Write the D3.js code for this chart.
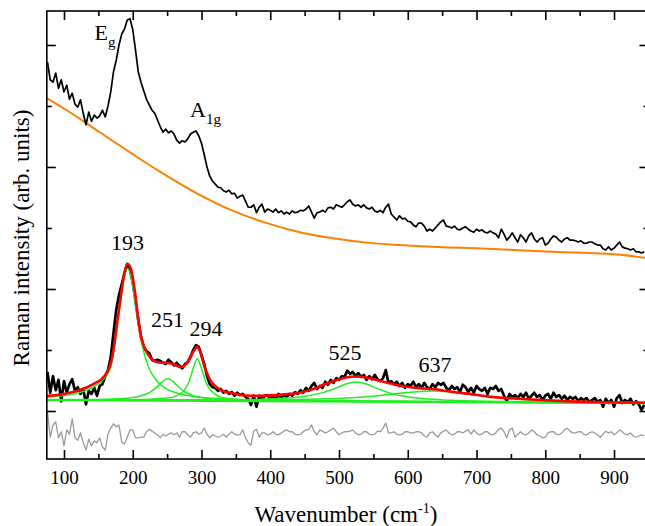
<!DOCTYPE html>
<html>
<head>
<meta charset="utf-8">
<script src="https://cdn.jsdelivr.net/npm/d3@7"></script>
<style>
  body { margin: 0; background: #fff; }
  svg { display: block; font-family: "Liberation Serif", "Times New Roman", serif; }
</style>
</head>
<body>
<svg id="chart" width="645" height="526"></svg>
<script>
  // measured points, every 4 cm-1 from 76 to 944
  const wavenumber = d3.range(76, 945, 4);

  // raw spectrum (top trace)
  const rawSpectrum = [
    572,543,539,554,529,543,523,534,511,521,503,498,510,488,469,490,
    475,485,480,484,493,482,500,523,556,575,600,618,626,641,643,625,
    592,556,539,525,511,502,493,488,477,466,457,462,456,459,454,444,
    439,443,441,446,454,457,459,451,439,420,400,385,377,372,367,366,
    361,359,362,356,357,349,352,354,344,334,334,338,325,334,339,326,
    331,329,326,331,325,328,323,326,323,328,325,326,329,328,331,336,
    326,316,325,326,329,326,333,334,331,338,336,334,338,343,346,339,
    336,338,334,338,333,331,334,328,326,329,325,334,339,323,318,313,
    320,315,316,311,310,305,302,308,308,303,295,298,295,300,305,310,
    313,303,302,300,303,298,297,300,302,298,295,293,298,295,297,293,
    292,295,292,290,284,298,290,280,285,292,284,277,289,284,277,287,
    292,282,277,282,284,272,275,282,287,285,280,277,282,284,280,280,
    279,277,279,275,275,277,277,274,272,272,266,264,269,264,267,272,
    277,269,267,266,264,266,261,261,259,261
  ];

  // background-subtracted spectrum (lower trace)
  const correctedSpectrum = [
    64,30,57,34,51,16,49,30,44,52,33,39,28,36,11,33,
    28,38,25,41,44,57,67,88,128,166,190,208,226,241,231,211,
    182,149,121,105,98,95,84,82,84,82,79,77,84,80,75,79,
    74,70,77,80,89,100,108,105,92,77,57,44,39,38,33,36,
    30,33,28,31,25,30,26,28,23,20,10,25,7,25,18,25,
    26,20,25,18,28,21,26,23,28,25,31,28,34,30,38,33,
    41,46,36,41,38,48,43,51,46,54,51,57,56,66,61,64,
    57,62,56,59,51,57,52,59,52,49,54,67,46,49,44,48,
    41,46,38,44,41,48,39,44,38,46,39,36,44,39,46,43,
    46,38,34,41,36,39,31,43,39,31,38,30,41,36,33,38,
    28,38,36,41,33,36,25,16,28,23,26,21,28,23,30,20,
    25,30,23,26,18,25,28,20,30,23,26,20,25,18,23,20,
    23,16,21,18,21,15,18,21,15,18,7,20,13,18,7,21,
    26,13,18,15,20,11,16,11,2,10
  ];

  // fit residual, shown below the spectra
  const fitResidual = [
    -2,-43,-23,-18,-44,-34,-57,-31,-38,-13,-44,-48,-36,-52,-64,-46,
    -57,-49,-52,-44,-59,-64,-38,-28,-21,-26,-23,-51,-54,-43,-31,-31,
    -44,-44,-43,-43,-34,-30,-33,-36,-39,-44,-38,-41,-38,-36,-39,-36,
    -43,-34,-34,-39,-43,-36,-34,-38,-36,-28,-38,-44,-39,-41,-43,-41,
    -38,-43,-38,-34,-38,-39,-39,-31,-44,-52,-56,-33,-30,-43,-36,-36,
    -39,-38,-34,-38,-39,-36,-33,-31,-34,-34,-38,-39,-38,-34,-31,-30,
    -23,-34,-39,-31,-33,-36,-34,-31,-28,-34,-39,-36,-34,-34,-33,-31,
    -36,-39,-38,-34,-34,-38,-39,-38,-33,-34,-28,-20,-36,-36,-34,-38,
    -39,-38,-34,-34,-36,-36,-34,-34,-36,-41,-43,-36,-34,-39,-43,-36,
    -33,-31,-36,-39,-38,-34,-34,-36,-33,-31,-38,-31,-36,-39,-38,-34,
    -34,-38,-39,-36,-30,-28,-34,-44,-31,-28,-43,-38,-34,-38,-39,-36,
    -31,-34,-39,-41,-44,-43,-36,-34,-34,-38,-39,-36,-31,-28,-33,-36,
    -36,-34,-34,-38,-39,-36,-34,-36,-39,-43,-38,-33,-36,-34,-39,-36,
    -31,-34,-38,-39,-36,-41,-43,-41,-39,-41
  ];

  // fluorescence background under the raw spectrum [cm-1, intensity]
  const background = [
    [75,513],[104,493],[152,457],[200,421],[240,392],[298,354],[346,328],
    [395,308],[443,293],[491,283],[541,276],[589,272],[618,270],[715,266],
    [811,261],[909,256],[945,251]
  ];

  // fit: total and components [cm-1, intensity]
  const fitTotal = [
    [75,25],[100,28],[120,33],[144,45],[158,56],[168,78],[172.7,105],[177.5,146],
    [182.5,187],[187.3,223],[192.5,241],[197.9,231],[202.8,198],[207.6,154],[212.4,121],
    [217.4,103],[226,87],[236,80],[246,79],[256,78],[264,74],[270,72],[276,75],[282,84],
    [288,97],[294,105],[298,97],[304,74],[308,62],[312,52],[322,39],[335,31],[343,29.5],
    [362,25.5],[385,25],[430,28],[460,35],[477,43],[495,50],[510,55],[525,56.5],[540,55],
    [560,49],[575,45],[595,40],[615,37.5],[647,34.5],[666,31],[690,28],[715,24],[763,20],
    [811,17],[860,15],[909,14],[950,13.5]
  ];
  const fitBaseline = [[75,18.0],[950,13.0]];
  const peak193 = [
    [75,22.7],[100,25.3],[120,29.5],[140,37.5],[150,45],[160,55],[168,72],[175,118],
    [181,168],[187,214],[193,234],[199,211],[205,164.5],[211,122.4],[218,88.4],[226,64.7],
    [236,47.8],[246,38.3],[266,28.7],[286,24.2],[330,20.0],[420,17.3],[600,15.4],[950,13.1]
  ];
  const peak251 = [
    [75,18.5],[150,18.9],[190,20.9],[210,24.2],[225,30.6],[235,39.1],[243,48.2],[251,53.1],
    [259,48.1],[267,38.9],[277,30.3],[292,23.7],[312,20.2],[352,17.8],[450,16.3],[950,13.1]
  ];
  const peak294 = [
    [75,18.2],[200,18.2],[250,21.1],[265,25.6],[275,34.2],[282,48.3],[288,69.9],[294,85.7],
    [300,69.8],[306,48.2],[313,34.0],[323,25.3],[338,20.6],[388,17.2],[500,15.8],[950,13.2]
  ];
  const peak525 = [
    [75,18.3],[200,17.9],[300,17.9],[380,19.0],[420,20.8],[450,24.1],[475,29.7],[495,37.5],
    [510,44.2],[525,47.5],[540,44.1],[555,37.1],[575,29.2],[600,23.2],[630,19.7],[670,17.4],
    [750,15.4],[850,14.2],[950,13.5]
  ];
  const peak637 = [
    [75,18.4],[200,18.0],[300,17.9],[400,18.3],[470,19.6],[520,21.9],[560,25.4],[600,30.3],
    [637,32.8],[674,29.9],[714,24.0],[754,19.8],[804,16.8],[874,14.8],[950,13.8]
  ];

  // annotations
  const peakLabels = ["193", "251", "294", "525", "637"];
  const peakLabelWn = [192.5, 250.5, 306.5, 508.7, 639.6];
  const peakLabelLevel = [264, 138, 123, 84, 64];

  const xTicks = [100, 200, 300, 400, 500, 600, 700, 800, 900];
  const xMinorTicks = [150, 250, 350, 450, 550, 650, 750, 850];
  const yTicks = [0, 200, 400, 600];
  const yMinorTicks = [100, 300, 500];

  const plotLeft = 46.8, plotRight = 648.4, plotTop = 11, plotBottom = 459;

  const x = d3.scaleLinear().domain([75, 950]).range([plotLeft, plotRight]);
  const y = d3.scaleLinear().domain([-78.7, 655.7]).range([plotBottom, plotTop]);

  const svg = d3.select("#chart");

  svg.append("defs").append("clipPath").attr("id", "plot-clip")
    .append("rect")
    .attr("x", plotLeft).attr("y", plotTop)
    .attr("width", plotRight - plotLeft).attr("height", plotBottom - plotTop);

  const plot = svg.append("g").attr("clip-path", "url(#plot-clip)");

  const line = d3.line().x((d) => x(d[0])).y((d) => y(d[1]));
  const smooth = d3.line().x((d) => x(d[0])).y((d) => y(d[1])).curve(d3.curveMonotoneX);
  const spectrum = (vals) => vals.map((v, i) => [wavenumber[i], v]);

  plot.append("path").datum(background)
    .attr("fill", "none").attr("stroke", "#ff8000").attr("stroke-width", 2)
    .attr("d", smooth);

  plot.append("path").datum(spectrum(rawSpectrum))
    .attr("fill", "none").attr("stroke", "#000").attr("stroke-width", 1.7)
    .attr("stroke-linejoin", "round")
    .attr("d", line);

  plot.append("path").datum(spectrum(fitResidual))
    .attr("fill", "none").attr("stroke", "#9a9a9a").attr("stroke-width", 1.3)
    .attr("stroke-linejoin", "round")
    .attr("d", line);

  plot.append("path").datum(spectrum(correctedSpectrum))
    .attr("fill", "none").attr("stroke", "#000").attr("stroke-width", 2.7)
    .attr("stroke-linejoin", "round")
    .attr("d", line);

  plot.append("path").datum(fitBaseline)
    .attr("fill", "none").attr("stroke", "#22ee22").attr("stroke-width", 2.5)
    .attr("d", line);

  plot.selectAll(".component")
    .data([peak193, peak251, peak294, peak525, peak637])
    .enter()
    .append("path")
    .attr("class", "component")
    .attr("fill", "none").attr("stroke", "#22ee22").attr("stroke-width", 1.5)
    .attr("d", smooth);

  plot.append("path").datum(fitTotal)
    .attr("fill", "none").attr("stroke", "#ff0000").attr("stroke-width", 2.6)
    .attr("d", smooth);

  // inward ticks on all four sides
  function styleAxis(g) {
    g.select(".domain").remove();
    g.selectAll(".tick line").attr("stroke", "#000").attr("stroke-width", 1.6);
    g.attr("font-family", null).attr("font-size", null);
  }

  svg.append("g").attr("transform", `translate(0,${plotBottom})`)
    .call(d3.axisBottom(x).tickValues(xTicks).tickSize(-9).tickPadding(11.5))
    .call(styleAxis)
    .selectAll("text").attr("font-size", 19).attr("fill", "#000");
  svg.append("g").attr("transform", `translate(0,${plotBottom})`)
    .call(d3.axisBottom(x).tickValues(xMinorTicks).tickSize(-5).tickFormat(""))
    .call(styleAxis);
  svg.append("g").attr("transform", `translate(0,${plotTop})`)
    .call(d3.axisTop(x).tickValues(xTicks).tickSize(-9).tickFormat(""))
    .call(styleAxis);
  svg.append("g").attr("transform", `translate(0,${plotTop})`)
    .call(d3.axisTop(x).tickValues(xMinorTicks).tickSize(-5).tickFormat(""))
    .call(styleAxis);
  svg.append("g").attr("transform", `translate(${plotLeft},0)`)
    .call(d3.axisLeft(y).tickValues(yTicks).tickSize(-9).tickFormat(""))
    .call(styleAxis);
  svg.append("g").attr("transform", `translate(${plotLeft},0)`)
    .call(d3.axisLeft(y).tickValues(yMinorTicks).tickSize(-5).tickFormat(""))
    .call(styleAxis);
  svg.append("g").attr("transform", `translate(${plotRight},0)`)
    .call(d3.axisRight(y).tickValues(yTicks).tickSize(-9).tickFormat(""))
    .call(styleAxis);
  svg.append("g").attr("transform", `translate(${plotRight},0)`)
    .call(d3.axisRight(y).tickValues(yMinorTicks).tickSize(-5).tickFormat(""))
    .call(styleAxis);

  svg.append("rect")
    .attr("x", plotLeft).attr("y", plotTop)
    .attr("width", plotRight - plotLeft).attr("height", plotBottom - plotTop)
    .attr("fill", "none").attr("stroke", "#000").attr("stroke-width", 1.6);

  // peak positions
  svg.selectAll(".peak-label")
    .data(peakLabels)
    .enter()
    .append("text")
    .attr("class", "peak-label")
    .attr("x", (d, i) => x(peakLabelWn[i]))
    .attr("y", (d, i) => y(peakLabelLevel[i]))
    .attr("text-anchor", "middle")
    .attr("font-size", 22)
    .text((d) => d);

  // mode assignments
  const eg = svg.append("text")
    .attr("x", x(144.4)).attr("y", y(608))
    .attr("font-size", 22);
  eg.append("tspan").text("E");
  eg.append("tspan").attr("dy", 7).attr("font-size", 15).text("g");

  const a1g = svg.append("text")
    .attr("x", x(283.3)).attr("y", y(482))
    .attr("font-size", 22);
  a1g.append("tspan").text("A");
  a1g.append("tspan").attr("dy", 7).attr("font-size", 15).text("1g");

  // axis titles
  const xTitle = svg.append("text")
    .attr("x", (plotLeft + 645) / 2).attr("y", 521.5)
    .attr("text-anchor", "middle")
    .attr("font-size", 23);
  xTitle.append("tspan").text("Wavenumber (cm");
  xTitle.append("tspan").attr("dy", -9).attr("font-size", 14).text("-1");
  xTitle.append("tspan").attr("dy", 9).text(")");

  svg.append("text")
    .attr("transform", "translate(29,238) rotate(-90)")
    .attr("text-anchor", "middle")
    .attr("font-size", 23)
    .text("Raman intensity (arb. units)");
</script>
</body>
</html>
